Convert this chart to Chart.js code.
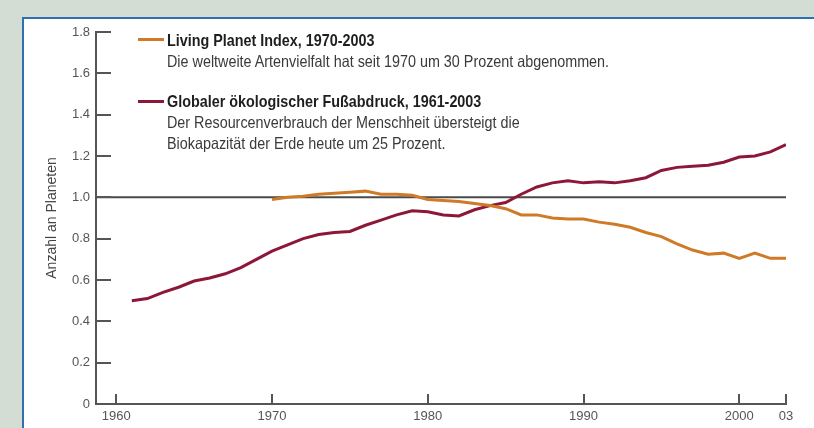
<!DOCTYPE html>
<html>
<head>
<meta charset="utf-8">
<script src="https://cdn.jsdelivr.net/npm/chart.js@4"></script>
<style>
  html, body { margin: 0; padding: 0; }
  body { width: 814px; height: 428px; background: #d4ddd3; position: relative; overflow: hidden; }
  .panel { position: absolute; left: 22px; top: 17px; width: 800px; height: 430px; background: #fff; border: 2px solid #2f6fb3; }
  canvas { position: absolute; left: 0; top: 0; }
  .leyenda { position: absolute; font-family: "Liberation Sans", Arial, sans-serif; color: #3a3a3a; transform: scaleX(0.87); transform-origin: left top; white-space: nowrap; }
  .leyenda b { display: block; color: #1e1e1e; font-size: 16.5px; line-height: 22px; }
  .leyenda span { display: block; font-size: 16.5px; line-height: 21px; }
  .muestra { position: absolute; width: 26px; height: 3px; }
</style>
</head>
<body>
<div class="panel"></div>
<canvas id="grafica" width="814" height="428"></canvas>

<div class="muestra" style="left:138px; top:38px; background:#cf7a26;"></div>
<div class="leyenda" style="left:167px; top:29px;">
  <b>Living Planet Index, 1970-2003</b>
  <span>Die weltweite Artenvielfalt hat seit 1970 um 30 Prozent abgenommen.</span>
</div>
<div class="muestra" style="left:138px; top:100px; background:#8d1739;"></div>
<div class="leyenda" style="left:167px; top:90px;">
  <b>Globaler ökologischer Fußabdruck, 1961-2003</b>
  <span>Der Resourcenverbrauch der Menschheit übersteigt die</span>
  <span>Biokapazität der Erde heute um 25 Prozent.</span>
</div>

<script>
// Datos
const aniosHuella = [1961, 1962, 1963, 1964, 1965, 1966, 1967, 1968, 1969, 1970,
  1971, 1972, 1973, 1974, 1975, 1976, 1977, 1978, 1979, 1980,
  1981, 1982, 1983, 1984, 1985, 1986, 1987, 1988, 1989, 1990,
  1991, 1992, 1993, 1994, 1995, 1996, 1997, 1998, 1999, 2000,
  2001, 2002, 2003];
const huella = [0.50, 0.51, 0.54, 0.565, 0.595, 0.61, 0.63, 0.66, 0.70, 0.74,
  0.77, 0.80, 0.82, 0.83, 0.835, 0.865, 0.89, 0.915, 0.935, 0.93,
  0.915, 0.91, 0.94, 0.96, 0.975, 1.015, 1.05, 1.07, 1.08, 1.07,
  1.075, 1.07, 1.08, 1.095, 1.13, 1.145, 1.15, 1.155, 1.17, 1.195,
  1.20, 1.22, 1.255];

const aniosLPI = [1970, 1971, 1972, 1973, 1974, 1975, 1976, 1977, 1978, 1979,
  1980, 1981, 1982, 1983, 1984, 1985, 1986, 1987, 1988, 1989,
  1990, 1991, 1992, 1993, 1994, 1995, 1996, 1997, 1998, 1999,
  2000, 2001, 2002, 2003];
const lpi = [0.99, 1.00, 1.005, 1.015, 1.02, 1.025, 1.03, 1.015, 1.015, 1.01,
  0.99, 0.985, 0.98, 0.97, 0.96, 0.945, 0.915, 0.915, 0.90, 0.895,
  0.895, 0.88, 0.87, 0.855, 0.83, 0.81, 0.775, 0.745, 0.725, 0.73,
  0.705, 0.73, 0.705, 0.705];

const ticksX = [1960, 1970, 1980, 1990, 2000, 2003];
const etiquetasX = ["1960", "1970", "1980", "1990", "2000", "03"];
const ticksY = [0, 0.2, 0.4, 0.6, 0.8, 1.0, 1.2, 1.4, 1.6, 1.8];
const etiquetasY = ["0", "0.2", "0.4", "0.6", "0.8", "1.0", "1.2", "1.4", "1.6", "1.8"];

const fuente = '"Liberation Sans", Arial, sans-serif';
const gris = '#555';

// Línea de referencia en 1.0 y marcas hacia dentro
const extras = {
  id: 'extras',
  beforeDatasetsDraw(chart) {
    const { ctx, chartArea, scales } = chart;
    const y1 = scales.y.getPixelForValue(1.0);
    ctx.save();
    ctx.strokeStyle = '#4a4a4a';
    ctx.lineWidth = 2;
    ctx.beginPath();
    ctx.moveTo(chartArea.left, y1);
    ctx.lineTo(chartArea.right, y1);
    ctx.stroke();
    ctx.restore();
  },
  afterDraw(chart) {
    const { ctx, chartArea, scales } = chart;
    ctx.save();
    ctx.strokeStyle = gris;
    ctx.lineWidth = 2;
    ticksY.forEach(v => {
      const py = Math.round(scales.y.getPixelForValue(v));
      ctx.beginPath();
      ctx.moveTo(chartArea.left, py);
      ctx.lineTo(chartArea.left + 15, py);
      ctx.stroke();
    });
    ticksX.forEach(v => {
      const px = Math.round(scales.x.getPixelForValue(v));
      ctx.beginPath();
      ctx.moveTo(px, chartArea.bottom);
      ctx.lineTo(px, chartArea.bottom - 10);
      ctx.stroke();
    });
    ctx.restore();
  }
};

new Chart(document.getElementById('grafica'), {
  type: 'line',
  data: {
    datasets: [
      {
        data: aniosLPI.map((a, i) => ({ x: a, y: lpi[i] })),
        borderColor: '#cf7a26',
        borderWidth: 3,
        pointRadius: 0,
        tension: 0
      },
      {
        data: aniosHuella.map((a, i) => ({ x: a, y: huella[i] })),
        borderColor: '#8d1739',
        borderWidth: 3,
        pointRadius: 0,
        tension: 0
      }
    ]
  },
  options: {
    responsive: false,
    animation: false,
    layout: { padding: { left: 0, top: 32, right: 28, bottom: 0 } },
    plugins: { legend: { display: false }, tooltip: { enabled: false } },
    scales: {
      x: {
        type: 'linear',
        min: 1958.7,
        max: 2003,
        afterFit: s => { s.height = 24; },
        afterBuildTicks: s => { s.ticks = ticksX.map(v => ({ value: v })); },
        grid: { display: false, drawTicks: false },
        border: { display: true, color: gris, width: 2 },
        ticks: {
          padding: 5,
          color: gris,
          font: { family: fuente, size: 13 },
          maxRotation: 0,
          autoSkip: false,
          callback: v => etiquetasX[ticksX.indexOf(v)]
        }
      },
      y: {
        min: 0,
        max: 1.8,
        afterFit: s => { s.width = 96; },
        afterBuildTicks: s => { s.ticks = ticksY.map(v => ({ value: v })); },
        grid: { display: false, drawTicks: false },
        border: { display: true, color: gris, width: 2 },
        title: {
          display: true,
          text: 'Anzahl an Planeten',
          color: '#444',
          font: { family: fuente, size: 14 },
          padding: { top: 44, bottom: 0 }
        },
        ticks: {
          padding: 6,
          color: gris,
          font: { family: fuente, size: 13 },
          callback: v => etiquetasY[ticksY.findIndex(t => Math.abs(t - v) < 1e-6)]
        }
      }
    }
  },
  plugins: [extras]
});
</script>
</body>
</html>
